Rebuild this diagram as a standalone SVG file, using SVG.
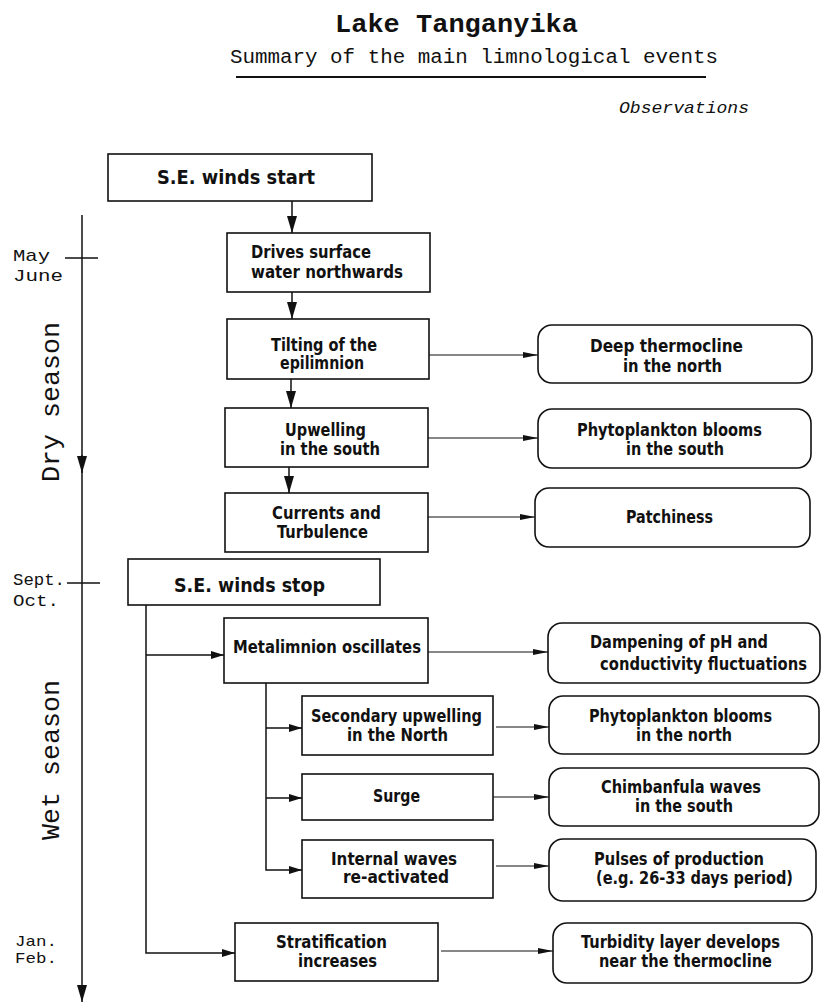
<svg xmlns="http://www.w3.org/2000/svg" width="821" height="1003" viewBox="0 0 821 1003">
<defs>
<style>
.bx{fill:#fff;stroke:#111;stroke-width:1.6}
.t{font-family:"DejaVu Sans Condensed","Liberation Sans Narrow","Liberation Sans",sans-serif;font-weight:bold;font-size:17.5px;fill:#111}
.tb{font-size:20px}
.m{font-family:"Liberation Mono","Courier New",monospace;fill:#111}
.c{fill:none;stroke:#111;stroke-width:1.5}
.cs{fill:none;stroke:#111;stroke-width:1.2}
</style>
<marker id="big" markerUnits="userSpaceOnUse" markerWidth="17" markerHeight="10" refX="17" refY="5" orient="auto"><path d="M0,0 L17,5 L0,10 z" fill="#111"/></marker>
<marker id="mid" markerUnits="userSpaceOnUse" markerWidth="13" markerHeight="8" refX="13" refY="4" orient="auto"><path d="M0,0 L13,4 L0,8 z" fill="#111"/></marker>
<marker id="sm" markerUnits="userSpaceOnUse" markerWidth="15" markerHeight="6" refX="15" refY="3" orient="auto"><path d="M0,0 L15,3 L0,6 z" fill="#111"/></marker>
</defs>
<rect width="821" height="1003" fill="#fff"/>

<g id="titles">
<text class="m" x="335" y="32" font-size="26" font-weight="bold" textLength="243" lengthAdjust="spacingAndGlyphs">Lake Tanganyika</text>
<text class="m" x="230" y="63" font-size="20" textLength="488" lengthAdjust="spacingAndGlyphs">Summary of the main limnological events</text>
<line x1="236" y1="77" x2="706" y2="77" stroke="#111" stroke-width="2"/>
<text class="m" x="619" y="113" font-size="17" font-style="italic" textLength="130" lengthAdjust="spacingAndGlyphs">Observations</text>
</g>

<g id="timeline">
<line class="c" x1="82" y1="215" x2="82" y2="1002" marker-end="url(#big)"/>
<line class="c" x1="82" y1="455" x2="82" y2="473" marker-end="url(#big)"/>
<line class="c" x1="65" y1="258" x2="98" y2="258"/>
<line class="c" x1="67" y1="583" x2="100" y2="583"/>
<text class="m" x="13" y="261" font-size="17" textLength="37" lengthAdjust="spacingAndGlyphs">May</text>
<text class="m" x="13" y="281" font-size="17" textLength="50" lengthAdjust="spacingAndGlyphs">June</text>
<text class="m" x="13" y="585" font-size="17" textLength="52" lengthAdjust="spacingAndGlyphs">Sept.</text>
<text class="m" x="13" y="606" font-size="17" textLength="46" lengthAdjust="spacingAndGlyphs">Oct.</text>
<text class="m" x="15" y="946" font-size="15" textLength="42" lengthAdjust="spacingAndGlyphs">Jan.</text>
<text class="m" x="15" y="963" font-size="15" textLength="42" lengthAdjust="spacingAndGlyphs">Feb.</text>
<text class="m" transform="translate(59,402) rotate(-90)" x="0" y="0" font-size="26" text-anchor="middle" textLength="160" lengthAdjust="spacingAndGlyphs">Dry season</text>
<text class="m" transform="translate(59,760) rotate(-90)" x="0" y="0" font-size="26" text-anchor="middle" textLength="160" lengthAdjust="spacingAndGlyphs">Wet season</text>
</g>

<g id="connectors">
<line class="c" x1="292" y1="201" x2="292" y2="233" marker-end="url(#big)"/>
<line class="c" x1="292" y1="292" x2="292" y2="319" marker-end="url(#big)"/>
<line class="c" x1="291" y1="379" x2="291" y2="408" marker-end="url(#big)"/>
<line class="c" x1="289" y1="467" x2="289" y2="493" marker-end="url(#big)"/>
<line class="cs" x1="429" y1="355" x2="538" y2="355" marker-end="url(#sm)"/>
<line class="cs" x1="428" y1="438" x2="538" y2="438" marker-end="url(#sm)"/>
<line class="cs" x1="428" y1="517" x2="535" y2="517" marker-end="url(#sm)"/>
<path class="c" d="M146,605 V953 H235" marker-end="url(#mid)"/>
<line class="c" x1="146" y1="655" x2="224" y2="655" marker-end="url(#mid)"/>
<line class="cs" x1="428" y1="652" x2="548" y2="652" marker-end="url(#sm)"/>
<path class="c" d="M266,683 V870 H302" marker-end="url(#mid)"/>
<line class="c" x1="266" y1="728" x2="302" y2="728" marker-end="url(#mid)"/>
<line class="c" x1="266" y1="798" x2="302" y2="798" marker-end="url(#mid)"/>
<line class="cs" x1="496" y1="727" x2="549" y2="727" marker-end="url(#sm)"/>
<line class="cs" x1="493" y1="797" x2="549" y2="797" marker-end="url(#sm)"/>
<line class="cs" x1="496" y1="866" x2="549" y2="866" marker-end="url(#sm)"/>
<line class="cs" x1="441" y1="951" x2="553" y2="951" marker-end="url(#sm)"/>
</g>

<g id="n1"><rect class="bx" x="108" y="154" width="264" height="47"/>
<text class="t tb" x="157" y="184" textLength="158" lengthAdjust="spacingAndGlyphs">S.E. winds start</text></g>
<g id="n2"><rect class="bx" x="227" y="233" width="203" height="59"/>
<text class="t" x="251" y="258" textLength="120" lengthAdjust="spacingAndGlyphs">Drives surface</text>
<text class="t" x="251" y="278" textLength="152" lengthAdjust="spacingAndGlyphs">water northwards</text></g>
<g id="n3"><rect class="bx" x="227" y="319" width="202" height="60"/>
<text class="t" x="271" y="351" textLength="106" lengthAdjust="spacingAndGlyphs">Tilting of the</text>
<text class="t" x="280" y="369" textLength="84" lengthAdjust="spacingAndGlyphs">epilimnion</text></g>
<g id="n4"><rect class="bx" x="225" y="408" width="203" height="59"/>
<text class="t" x="285" y="436" textLength="81" lengthAdjust="spacingAndGlyphs">Upwelling</text>
<text class="t" x="280" y="455" textLength="100" lengthAdjust="spacingAndGlyphs">in the south</text></g>
<g id="n5"><rect class="bx" x="225" y="493" width="203" height="59"/>
<text class="t" x="272" y="519" textLength="109" lengthAdjust="spacingAndGlyphs">Currents and</text>
<text class="t" x="277" y="538" textLength="91" lengthAdjust="spacingAndGlyphs">Turbulence</text></g>
<g id="n6"><rect class="bx" x="128" y="559" width="252" height="46"/>
<text class="t tb" x="174" y="592" textLength="151" lengthAdjust="spacingAndGlyphs">S.E. winds stop</text></g>
<g id="n7"><rect class="bx" x="224" y="618" width="204" height="65"/>
<text class="t" x="233" y="653" textLength="188" lengthAdjust="spacingAndGlyphs">Metalimnion oscillates</text></g>
<g id="n8"><rect class="bx" x="302" y="696" width="191" height="59"/>
<text class="t" x="311" y="722" textLength="171" lengthAdjust="spacingAndGlyphs">Secondary upwelling</text>
<text class="t" x="347" y="741" textLength="101" lengthAdjust="spacingAndGlyphs">in the North</text></g>
<g id="n9"><rect class="bx" x="302" y="774" width="191" height="46"/>
<text class="t" x="373" y="802" textLength="47" lengthAdjust="spacingAndGlyphs">Surge</text></g>
<g id="n10"><rect class="bx" x="302" y="840" width="191" height="58"/>
<text class="t" x="331" y="865" textLength="126" lengthAdjust="spacingAndGlyphs">Internal waves</text>
<text class="t" x="343" y="883" textLength="106" lengthAdjust="spacingAndGlyphs">re-activated</text></g>
<g id="n11"><rect class="bx" x="235" y="923" width="203" height="58"/>
<text class="t" x="276" y="948" textLength="111" lengthAdjust="spacingAndGlyphs">Stratification</text>
<text class="t" x="298" y="967" textLength="79" lengthAdjust="spacingAndGlyphs">increases</text></g>

<g id="o1"><rect class="bx" x="538" y="325" width="274" height="58" rx="14"/>
<text class="t" x="590" y="352" textLength="153" lengthAdjust="spacingAndGlyphs">Deep thermocline</text>
<text class="t" x="623" y="372" textLength="99" lengthAdjust="spacingAndGlyphs">in the north</text></g>
<g id="o2"><rect class="bx" x="538" y="409" width="273" height="59" rx="14"/>
<text class="t" x="577" y="436" textLength="185" lengthAdjust="spacingAndGlyphs">Phytoplankton blooms</text>
<text class="t" x="626" y="455" textLength="98" lengthAdjust="spacingAndGlyphs">in the south</text></g>
<g id="o3"><rect class="bx" x="535" y="488" width="275" height="59" rx="14"/>
<text class="t" x="626" y="523" textLength="87" lengthAdjust="spacingAndGlyphs">Patchiness</text></g>
<g id="o4"><rect class="bx" x="548" y="623" width="272" height="60" rx="14"/>
<text class="t" x="590" y="648" textLength="178" lengthAdjust="spacingAndGlyphs">Dampening of pH and</text>
<text class="t" x="600" y="670" textLength="207" lengthAdjust="spacingAndGlyphs">conductivity fluctuations</text></g>
<g id="o5"><rect class="bx" x="549" y="696" width="270" height="58" rx="14"/>
<text class="t" x="589" y="722" textLength="183" lengthAdjust="spacingAndGlyphs">Phytoplankton blooms</text>
<text class="t" x="636" y="741" textLength="96" lengthAdjust="spacingAndGlyphs">in the north</text></g>
<g id="o6"><rect class="bx" x="549" y="768" width="270" height="58" rx="14"/>
<text class="t" x="601" y="793" textLength="160" lengthAdjust="spacingAndGlyphs">Chimbanfula waves</text>
<text class="t" x="635" y="812" textLength="98" lengthAdjust="spacingAndGlyphs">in the south</text></g>
<g id="o7"><rect class="bx" x="549" y="839" width="267" height="62" rx="14"/>
<text class="t" x="594" y="865" textLength="170" lengthAdjust="spacingAndGlyphs">Pulses of production</text>
<text class="t" x="596" y="884" textLength="197" lengthAdjust="spacingAndGlyphs">(e.g. 26-33 days period)</text></g>
<g id="o8"><rect class="bx" x="553" y="923" width="259" height="60" rx="14"/>
<text class="t" x="581" y="948" textLength="199" lengthAdjust="spacingAndGlyphs">Turbidity layer develops</text>
<text class="t" x="599" y="967" textLength="173" lengthAdjust="spacingAndGlyphs">near the thermocline</text></g>
</svg>
